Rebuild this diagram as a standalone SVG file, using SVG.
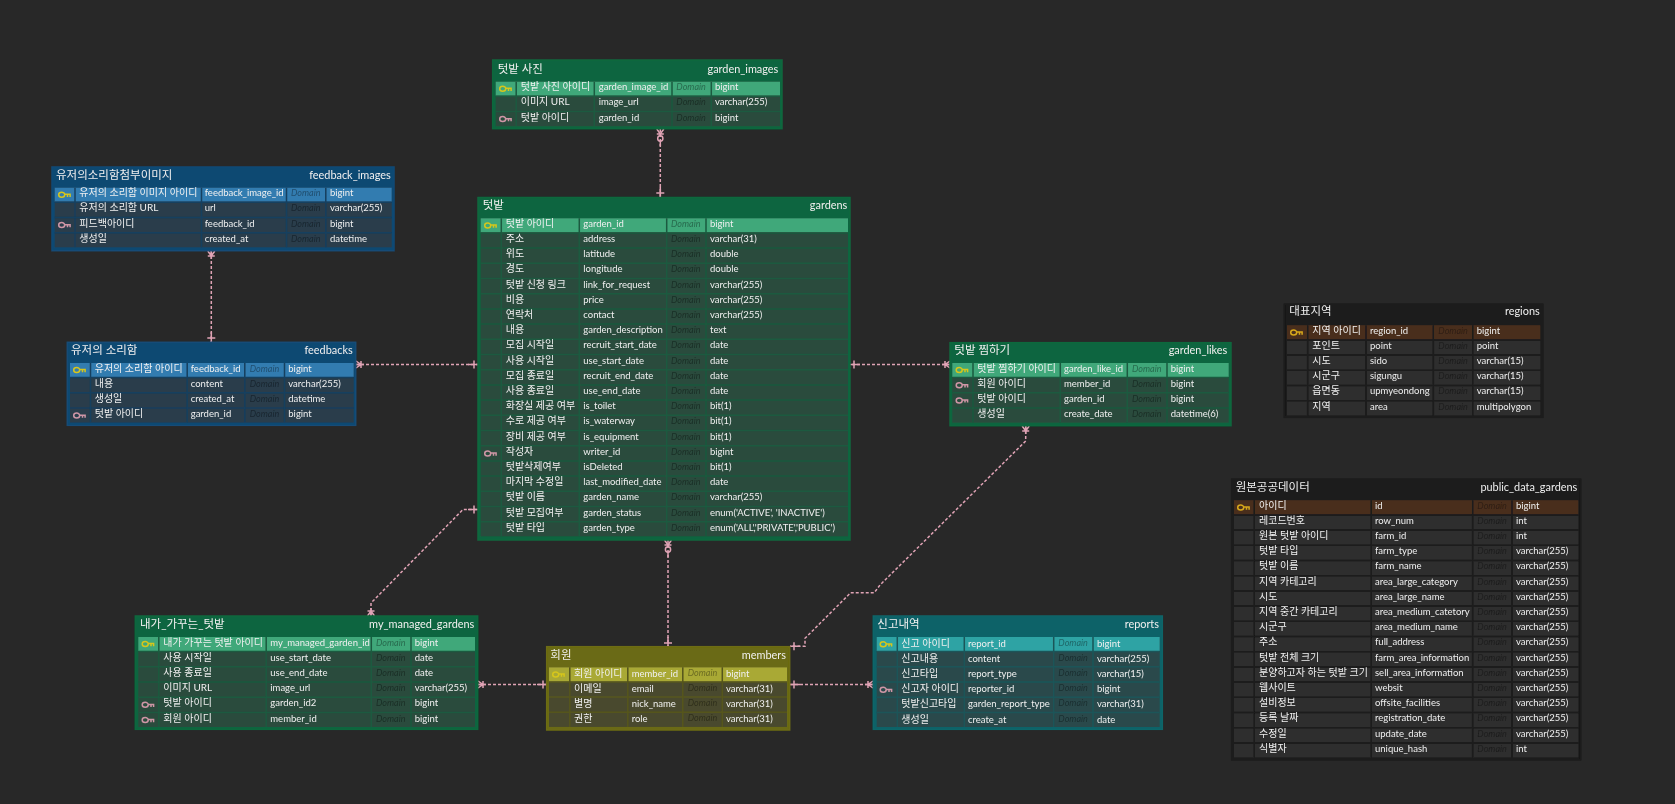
<svg xmlns="http://www.w3.org/2000/svg" width="1675" height="804" viewBox="0 0 1675 804">
<style>
text{font-family:"Lato","Noto Sans CJK KR",sans-serif;font-size:9.5px;fill:#f0f0f0}
g text:nth-of-type(4n+3){font-size:10px}
g .ti{font-size:11.5px;fill:#f0f0f0}
g .r{text-anchor:end;font-size:10.9px}
g .d{font-style:italic;font-size:9px;fill:#000;fill-opacity:.38}
.g .f{fill:#10653f;stroke:#0f683d}.g .b{fill:#2b4b3d}.g .p{fill:#3fa87a}.g .s{stroke:#1d5a3f}
.l .f{fill:#114972;stroke:#124b77}.l .b{fill:#293d4c}.l .p{fill:#337cb0}.l .s{stroke:#173f5e}
.o .f{fill:#6b6a12;stroke:#6d6c13}.o .b{fill:#4a4a2d}.o .p{fill:#a9a935}.o .s{stroke:#55551c}
.e .f{fill:#116267;stroke:#0f6669}.e .b{fill:#2b4a4c}.e .p{fill:#2fa3a4}.e .s{stroke:#1a5558}
.k .f{fill:#1a1a1a;stroke:#1c1c1c}.k .b{fill:#2e2e2e}.k .p{fill:#4a2f1c}.k .s{stroke:#1a1a1a}
.f{stroke-width:1.5}
.s{fill:none;stroke-width:1.5}
.pk{stroke:#d6c61c}.fk{stroke:#cf96a6}
.pk2{stroke:#d8a81a}
.c{fill:none;stroke:#e0a3b5;stroke-width:1.5;stroke-dasharray:3 2}
.m{fill:none;stroke:#e0a3b5;stroke-width:1.5}
</style>
<defs>
<filter id="soft" filterUnits="userSpaceOnUse" x="0" y="0" width="1675" height="804"><feGaussianBlur stdDeviation="0.45"/></filter>
<g id="key" fill="none" stroke-width="1.5"><ellipse cx="-2.8" cy="0" rx="3" ry="2.5"/><path d="M0 -0.4H5.6V2.2M3 -0.4V2.2"/></g>
<marker id="one" markerUnits="userSpaceOnUse" orient="auto-start-reverse" markerWidth="20" markerHeight="12" refX="18" refY="6" viewBox="0 0 20 12" overflow="visible"><path class="m" d="M8 6H18M14 2V10"/></marker>
<marker id="many" markerUnits="userSpaceOnUse" orient="auto-start-reverse" markerWidth="20" markerHeight="12" refX="18" refY="6" viewBox="0 0 20 12" overflow="visible"><path class="m" d="M10 6H18M18 2.5L13 6L18 9.5M13 2.5V9.5"/></marker>
<marker id="zmany" markerUnits="userSpaceOnUse" orient="auto-start-reverse" markerWidth="24" markerHeight="12" refX="22" refY="6" viewBox="0 0 24 12" overflow="visible"><path class="m" d="M22 2.5L17 6L22 9.5M17 2.5V9.5M17 6H15"/><circle class="m" cx="12.6" cy="6" r="2.6"/><path class="m" d="M10 6H5"/></marker>
</defs>
<rect width="1675" height="804" fill="#282828"/>
<g filter="url(#soft)">
<g id="connectors">
<path class="c" marker-start="url(#zmany)" marker-end="url(#one)" d="M660.3 129V197"/>
<path class="c" marker-start="url(#many)" marker-end="url(#one)" d="M211.3 251V342"/>
<path class="c" marker-start="url(#many)" marker-end="url(#one)" d="M356 364.5H478"/>
<path class="c" marker-start="url(#many)" marker-end="url(#one)" d="M950 364.5H850"/>
<path class="c" marker-start="url(#many)" marker-end="url(#one)" d="M371 616V603L463 509.5H478"/>
<path class="c" marker-start="url(#zmany)" marker-end="url(#one)" d="M668 540V647"/>
<path class="c" marker-start="url(#many)" marker-end="url(#one)" d="M1025.7 426V441L880 585L874.3 592.7H850.7L805 638.3V646.3H790"/>
<path class="c" marker-start="url(#many)" marker-end="url(#one)" d="M478 684.5H547"/>
<path class="c" marker-start="url(#many)" marker-end="url(#one)" d="M873 684.5H790"/>
</g>

<g id="garden_images" class="g">
<rect class="f" x="492.7" y="60" width="289.3" height="68.7"/>
<rect class="b" x="495.7" y="81.7" width="284.3" height="44.4"/>
<rect class="p" x="495.7" y="81.7" width="284.3" height="14"/>
<path class="s" d="M495.7 96.3H780M495.7 111.5H780M516.2 81.7V126.1M594.3 81.7V126.1M672 81.7V126.1M711.3 81.7V126.1"/>
<use href="#key" class="pk" x="505.5" y="88.7"/><use href="#key" class="fk" x="505.5" y="119.1"/>
<text class="ti" x="497.7" y="72.5">텃밭 사진</text><text class="ti r" x="778.3" y="72.5">garden_images</text>
<text x="520.7" y="90.2">텃밭 사진 아이디</text><text x="598.7" y="90.2">garden_image_id</text><text class="d" x="676.3" y="90.2">Domain</text><text x="715" y="90.2">bigint</text>
<text x="520.7" y="105.4">이미지 URL</text><text x="598.7" y="105.4">image_url</text><text class="d" x="676.3" y="105.4">Domain</text><text x="715" y="105.4">varchar(255)</text>
<text x="520.7" y="120.6">텃밭 아이디</text><text x="598.7" y="120.6">garden_id</text><text class="d" x="676.3" y="120.6">Domain</text><text x="715" y="120.6">bigint</text>
</g>

<g id="feedback_images" class="l">
<rect class="f" x="52" y="167" width="342" height="83.7"/>
<rect class="b" x="54.7" y="187.7" width="337" height="59.6"/>
<rect class="p" x="54.7" y="187.7" width="337" height="14"/>
<path class="s" d="M54.7 202.3H391.7M54.7 217.5H391.7M54.7 232.7H391.7M75 187.7V247.3M201.5 187.7V247.3M286.5 187.7V247.3M325.8 187.7V247.3"/>
<use href="#key" class="pk" x="64.5" y="194.7"/><use href="#key" class="fk" x="64.5" y="225.1"/>
<text class="ti" x="56" y="178.5">유저의소리함첨부이미지</text><text class="ti r" x="390.7" y="178.5">feedback_images</text>
<text x="79.3" y="196.2">유저의 소리함 이미지 아이디</text><text x="204.7" y="196.2">feedback_image_id</text><text class="d" x="291" y="196.2">Domain</text><text x="330" y="196.2">bigint</text>
<text x="79.3" y="211.4">유저의 소리함 URL</text><text x="204.7" y="211.4">url</text><text class="d" x="291" y="211.4">Domain</text><text x="330" y="211.4">varchar(255)</text>
<text x="79.3" y="226.6">피드백아이디</text><text x="204.7" y="226.6">feedback_id</text><text class="d" x="291" y="226.6">Domain</text><text x="330" y="226.6">bigint</text>
<text x="79.3" y="241.8">생성일</text><text x="204.7" y="241.8">created_at</text><text class="d" x="291" y="241.8">Domain</text><text x="330" y="241.8">datetime</text>
</g>

<g id="feedbacks" class="l">
<rect class="f" x="67.3" y="342.3" width="288.4" height="83"/>
<rect class="b" x="70" y="363" width="283.7" height="59.6"/>
<rect class="p" x="70" y="363" width="283.7" height="14"/>
<path class="s" d="M70 377.6H353.7M70 392.8H353.7M70 408H353.7M90.5 363V422.6M187.2 363V422.6M244.8 363V422.6M284.5 363V422.6"/>
<use href="#key" class="pk" x="79.5" y="370"/><use href="#key" class="fk" x="79.5" y="415.6"/>
<text class="ti" x="71" y="353.5">유저의 소리함</text><text class="ti r" x="352.7" y="353.5">feedbacks</text>
<text x="94.7" y="371.5">유저의 소리함 아이디</text><text x="190.7" y="371.5">feedback_id</text><text class="d" x="249.7" y="371.5">Domain</text><text x="288.3" y="371.5">bigint</text>
<text x="94.7" y="386.7">내용</text><text x="190.7" y="386.7">content</text><text class="d" x="249.7" y="386.7">Domain</text><text x="288.3" y="386.7">varchar(255)</text>
<text x="94.7" y="401.9">생성일</text><text x="190.7" y="401.9">created_at</text><text class="d" x="249.7" y="401.9">Domain</text><text x="288.3" y="401.9">datetime</text>
<text x="94.7" y="417.1">텃밭 아이디</text><text x="190.7" y="417.1">garden_id</text><text class="d" x="249.7" y="417.1">Domain</text><text x="288.3" y="417.1">bigint</text>
</g>

<g id="gardens" class="g">
<rect class="f" x="478" y="197.5" width="372" height="342.5"/>
<rect class="b" x="480.7" y="218.3" width="367.3" height="318"/>
<rect class="p" x="480.7" y="218.3" width="367.3" height="14"/>
<path class="s" d="M480.7 232.9H848M480.7 248.1H848M480.7 263.3H848M480.7 278.5H848M480.7 293.7H848M480.7 308.9H848M480.7 324.1H848M480.7 339.3H848M480.7 354.5H848M480.7 369.7H848M480.7 384.9H848M480.7 400.1H848M480.7 415.3H848M480.7 430.5H848M480.7 445.7H848M480.7 460.9H848M480.7 476.1H848M480.7 491.3H848M480.7 506.5H848M480.7 521.7H848M501.3 218.3V536.3M579.3 218.3V536.3M666.7 218.3V536.3M706 218.3V536.3"/>
<use href="#key" class="pk" x="490.5" y="225.5"/><use href="#key" class="fk" x="490.5" y="453.5"/>
<text class="ti" x="482.7" y="209">텃밭</text><text class="ti r" x="847.3" y="209">gardens</text>
<text x="505.7" y="226.8">텃밭 아이디</text><text x="583.3" y="226.8">garden_id</text><text class="d" x="671" y="226.8">Domain</text><text x="710" y="226.8">bigint</text>
<text x="505.7" y="242">주소</text><text x="583.3" y="242">address</text><text class="d" x="671" y="242">Domain</text><text x="710" y="242">varchar(31)</text>
<text x="505.7" y="257.2">위도</text><text x="583.3" y="257.2">latitude</text><text class="d" x="671" y="257.2">Domain</text><text x="710" y="257.2">double</text>
<text x="505.7" y="272.4">경도</text><text x="583.3" y="272.4">longitude</text><text class="d" x="671" y="272.4">Domain</text><text x="710" y="272.4">double</text>
<text x="505.7" y="287.6">텃밭 신청 링크</text><text x="583.3" y="287.6">link_for_request</text><text class="d" x="671" y="287.6">Domain</text><text x="710" y="287.6">varchar(255)</text>
<text x="505.7" y="302.8">비용</text><text x="583.3" y="302.8">price</text><text class="d" x="671" y="302.8">Domain</text><text x="710" y="302.8">varchar(255)</text>
<text x="505.7" y="318">연락처</text><text x="583.3" y="318">contact</text><text class="d" x="671" y="318">Domain</text><text x="710" y="318">varchar(255)</text>
<text x="505.7" y="333.2">내용</text><text x="583.3" y="333.2">garden_description</text><text class="d" x="671" y="333.2">Domain</text><text x="710" y="333.2">text</text>
<text x="505.7" y="348.4">모집 시작일</text><text x="583.3" y="348.4">recruit_start_date</text><text class="d" x="671" y="348.4">Domain</text><text x="710" y="348.4">date</text>
<text x="505.7" y="363.6">사용 시작일</text><text x="583.3" y="363.6">use_start_date</text><text class="d" x="671" y="363.6">Domain</text><text x="710" y="363.6">date</text>
<text x="505.7" y="378.8">모집 종료일</text><text x="583.3" y="378.8">recruit_end_date</text><text class="d" x="671" y="378.8">Domain</text><text x="710" y="378.8">date</text>
<text x="505.7" y="394">사용 종료일</text><text x="583.3" y="394">use_end_date</text><text class="d" x="671" y="394">Domain</text><text x="710" y="394">date</text>
<text x="505.7" y="409.2">화장실 제공 여부</text><text x="583.3" y="409.2">is_toilet</text><text class="d" x="671" y="409.2">Domain</text><text x="710" y="409.2">bit(1)</text>
<text x="505.7" y="424.4">수로 제공 여부</text><text x="583.3" y="424.4">is_waterway</text><text class="d" x="671" y="424.4">Domain</text><text x="710" y="424.4">bit(1)</text>
<text x="505.7" y="439.6">장비 제공 여부</text><text x="583.3" y="439.6">is_equipment</text><text class="d" x="671" y="439.6">Domain</text><text x="710" y="439.6">bit(1)</text>
<text x="505.7" y="454.8">작성자</text><text x="583.3" y="454.8">writer_id</text><text class="d" x="671" y="454.8">Domain</text><text x="710" y="454.8">bigint</text>
<text x="505.7" y="470">텃밭삭제여부</text><text x="583.3" y="470">isDeleted</text><text class="d" x="671" y="470">Domain</text><text x="710" y="470">bit(1)</text>
<text x="505.7" y="485.2">마지막 수정일</text><text x="583.3" y="485.2">last_modified_date</text><text class="d" x="671" y="485.2">Domain</text><text x="710" y="485.2">date</text>
<text x="505.7" y="500.4">텃밭 이름</text><text x="583.3" y="500.4">garden_name</text><text class="d" x="671" y="500.4">Domain</text><text x="710" y="500.4">varchar(255)</text>
<text x="505.7" y="515.6">텃밭 모집여부</text><text x="583.3" y="515.6">garden_status</text><text class="d" x="671" y="515.6">Domain</text><text x="710" y="515.6">enum('ACTIVE', 'INACTIVE')</text>
<text x="505.7" y="530.8">텃밭 타입</text><text x="583.3" y="530.8">garden_type</text><text class="d" x="671" y="530.8">Domain</text><text x="710" y="530.8">enum('ALL','PRIVATE','PUBLIC')</text>
</g>

<g id="garden_likes" class="g">
<rect class="f" x="950" y="342.7" width="281" height="83"/>
<rect class="b" x="952.3" y="363" width="276.4" height="59.6"/>
<rect class="p" x="952.3" y="363" width="276.4" height="14"/>
<path class="s" d="M952.3 377.6H1228.7M952.3 392.8H1228.7M952.3 408H1228.7M973 363V422.6M1060.3 363V422.6M1127.3 363V422.6M1167 363V422.6"/>
<use href="#key" class="pk" x="962" y="370"/><use href="#key" class="fk" x="962" y="385.2"/><use href="#key" class="fk" x="962" y="400.4"/>
<text class="ti" x="954.3" y="354">텃밭 찜하기</text><text class="ti r" x="1227.3" y="354">garden_likes</text>
<text x="977.3" y="371.5">텃밭 찜하기 아이디</text><text x="1064" y="371.5">garden_like_id</text><text class="d" x="1132" y="371.5">Domain</text><text x="1170.7" y="371.5">bigint</text>
<text x="977.3" y="386.7">회원 아이디</text><text x="1064" y="386.7">member_id</text><text class="d" x="1132" y="386.7">Domain</text><text x="1170.7" y="386.7">bigint</text>
<text x="977.3" y="401.9">텃밭 아이디</text><text x="1064" y="401.9">garden_id</text><text class="d" x="1132" y="401.9">Domain</text><text x="1170.7" y="401.9">bigint</text>
<text x="977.3" y="417.1">생성일</text><text x="1064" y="417.1">create_date</text><text class="d" x="1132" y="417.1">Domain</text><text x="1170.7" y="417.1">datetime(6)</text>
</g>

<g id="my_managed_gardens" class="g">
<rect class="f" x="135.3" y="616" width="342.4" height="113.3"/>
<rect class="b" x="138.3" y="637" width="336.7" height="90"/>
<rect class="p" x="138.3" y="637" width="336.7" height="14"/>
<path class="s" d="M138.3 651.6H475M138.3 666.8H475M138.3 682H475M138.3 697.2H475M138.3 712.4H475M158.8 637V727M266.2 637V727M371.3 637V727M411 637V727"/>
<use href="#key" class="pk" x="148" y="644"/><use href="#key" class="fk" x="148" y="704.8"/><use href="#key" class="fk" x="148" y="720"/>
<text class="ti" x="140" y="628">내가_가꾸는_텃밭</text><text class="ti r" x="474.3" y="628">my_managed_gardens</text>
<text x="163.3" y="645.5">내가 가꾸는 텃밭 아이디</text><text x="270.3" y="645.5">my_managed_garden_id</text><text class="d" x="376" y="645.5">Domain</text><text x="414.7" y="645.5">bigint</text>
<text x="163.3" y="660.7">사용 시작일</text><text x="270.3" y="660.7">use_start_date</text><text class="d" x="376" y="660.7">Domain</text><text x="414.7" y="660.7">date</text>
<text x="163.3" y="675.9">사용 종료일</text><text x="270.3" y="675.9">use_end_date</text><text class="d" x="376" y="675.9">Domain</text><text x="414.7" y="675.9">date</text>
<text x="163.3" y="691.1">이미지 URL</text><text x="270.3" y="691.1">image_url</text><text class="d" x="376" y="691.1">Domain</text><text x="414.7" y="691.1">varchar(255)</text>
<text x="163.3" y="706.3">텃밭 아이디</text><text x="270.3" y="706.3">garden_id2</text><text class="d" x="376" y="706.3">Domain</text><text x="414.7" y="706.3">bigint</text>
<text x="163.3" y="721.5">회원 아이디</text><text x="270.3" y="721.5">member_id</text><text class="d" x="376" y="721.5">Domain</text><text x="414.7" y="721.5">bigint</text>
</g>

<g id="members" class="o">
<rect class="f" x="546.7" y="646.7" width="243" height="83.3"/>
<rect class="b" x="549" y="667.3" width="238" height="59.6"/>
<rect class="p" x="549" y="667.3" width="238" height="14.4"/>
<path class="s" d="M549 681.9H787M549 697.1H787M549 712.3H787M569.8 667.3V726.9M627.8 667.3V726.9M682.8 667.3V726.9M722.3 667.3V726.9"/>
<use href="#key" class="pk" x="558.5" y="674.5"/>
<text class="ti" x="550.3" y="659">회원</text><text class="ti r" x="786" y="659">members</text>
<text x="574" y="676.7">회원 아이디</text><text x="631.7" y="676.7">member_id</text><text class="d" x="687.7" y="675.7">Domain</text><text x="726" y="676.7">bigint</text>
<text x="574" y="691.9">이메일</text><text x="631.7" y="691.9">email</text><text class="d" x="687.7" y="690.9">Domain</text><text x="726" y="691.9">varchar(31)</text>
<text x="574" y="707.1">별명</text><text x="631.7" y="707.1">nick_name</text><text class="d" x="687.7" y="706.1">Domain</text><text x="726" y="707.1">varchar(31)</text>
<text x="574" y="722.3">권한</text><text x="631.7" y="722.3">role</text><text class="d" x="687.7" y="721.3">Domain</text><text x="726" y="722.3">varchar(31)</text>
</g>

<g id="reports" class="e">
<rect class="f" x="873.3" y="616" width="289" height="113.3"/>
<rect class="b" x="876.7" y="637" width="283" height="90"/>
<rect class="p" x="876.7" y="637" width="283" height="14"/>
<path class="s" d="M876.7 651.6H1159.7M876.7 666.8H1159.7M876.7 682H1159.7M876.7 697.2H1159.7M876.7 712.4H1159.7M897.3 637V727M964.3 637V727M1053.7 637V727M1093 637V727"/>
<use href="#key" class="pk" x="886" y="644.3"/><use href="#key" class="fk" x="886" y="689.8"/>
<text class="ti" x="877.3" y="628">신고내역</text><text class="ti r" x="1159" y="628">reports</text>
<text x="901.3" y="646.5">신고 아이디</text><text x="968" y="646.5">report_id</text><text class="d" x="1058.3" y="645.5">Domain</text><text x="1097" y="646.5">bigint</text>
<text x="901.3" y="661.7">신고내용</text><text x="968" y="661.7">content</text><text class="d" x="1058.3" y="660.7">Domain</text><text x="1097" y="661.7">varchar(255)</text>
<text x="901.3" y="676.9">신고타입</text><text x="968" y="676.9">report_type</text><text class="d" x="1058.3" y="675.9">Domain</text><text x="1097" y="676.9">varchar(15)</text>
<text x="901.3" y="692.1">신고자 아이디</text><text x="968" y="692.1">reporter_id</text><text class="d" x="1058.3" y="691.1">Domain</text><text x="1097" y="692.1">bigint</text>
<text x="901.3" y="707.3">텃밭신고타입</text><text x="968" y="707.3">garden_report_type</text><text class="d" x="1058.3" y="706.3">Domain</text><text x="1097" y="707.3">varchar(31)</text>
<text x="901.3" y="722.5">생성일</text><text x="968" y="722.5">create_at</text><text class="d" x="1058.3" y="721.5">Domain</text><text x="1097" y="722.5">date</text>
</g>

<g id="regions" class="k">
<rect class="f" x="1284.3" y="304" width="258.7" height="113.3"/>
<rect class="b" x="1287" y="325.3" width="253.3" height="90"/>
<rect class="p" x="1287" y="325.3" width="253.3" height="14"/>
<path class="s" d="M1287 339.9H1540.3M1287 355.1H1540.3M1287 370.3H1540.3M1287 385.5H1540.3M1287 400.7H1540.3M1307.7 325.3V415.3M1366 325.3V415.3M1433.3 325.3V415.3M1472.8 325.3V415.3"/>
<use href="#key" class="pk2" x="1296.5" y="332.5"/>
<text class="ti" x="1289.3" y="315">대표지역</text><text class="ti r" x="1539.7" y="315">regions</text>
<text x="1312.3" y="333.5">지역 아이디</text><text x="1370" y="333.5">region_id</text><text class="d" x="1438.3" y="333.5">Domain</text><text x="1476.7" y="333.5">bigint</text>
<text x="1312.3" y="348.7">포인트</text><text x="1370" y="348.7">point</text><text class="d" x="1438.3" y="348.7">Domain</text><text x="1476.7" y="348.7">point</text>
<text x="1312.3" y="363.9">시도</text><text x="1370" y="363.9">sido</text><text class="d" x="1438.3" y="363.9">Domain</text><text x="1476.7" y="363.9">varchar(15)</text>
<text x="1312.3" y="379.1">시군구</text><text x="1370" y="379.1">sigungu</text><text class="d" x="1438.3" y="379.1">Domain</text><text x="1476.7" y="379.1">varchar(15)</text>
<text x="1312.3" y="394.3">읍면동</text><text x="1370" y="394.3">upmyeondong</text><text class="d" x="1438.3" y="394.3">Domain</text><text x="1476.7" y="394.3">varchar(15)</text>
<text x="1312.3" y="409.5">지역</text><text x="1370" y="409.5">area</text><text class="d" x="1438.3" y="409.5">Domain</text><text x="1476.7" y="409.5">multipolygon</text>
</g>

<g id="public_data_gardens" class="k">
<rect class="f" x="1231.7" y="479" width="349" height="281"/>
<rect class="b" x="1234" y="500.3" width="344.3" height="257.2"/>
<rect class="p" x="1234" y="500.3" width="344.3" height="14"/>
<path class="s" d="M1234 514.9H1578.3M1234 530.1H1578.3M1234 545.3H1578.3M1234 560.5H1578.3M1234 575.7H1578.3M1234 590.9H1578.3M1234 606.1H1578.3M1234 621.3H1578.3M1234 636.5H1578.3M1234 651.7H1578.3M1234 666.9H1578.3M1234 682.1H1578.3M1234 697.3H1578.3M1234 712.5H1578.3M1234 727.7H1578.3M1234 742.9H1578.3M1254.2 500.3V757.5M1371.2 500.3V757.5M1472.7 500.3V757.5M1512 500.3V757.5"/>
<use href="#key" class="pk2" x="1243.5" y="507.5"/>
<text class="ti" x="1235.7" y="491">원본공공데이터</text><text class="ti r" x="1577.3" y="491">public_data_gardens</text>
<text x="1259" y="508.5">아이디</text><text x="1375" y="508.5">id</text><text class="d" x="1477.3" y="508.5">Domain</text><text x="1516" y="508.5">bigint</text>
<text x="1259" y="523.7">레코드번호</text><text x="1375" y="523.7">row_num</text><text class="d" x="1477.3" y="523.7">Domain</text><text x="1516" y="523.7">int</text>
<text x="1259" y="538.9">원본 텃밭 아이디</text><text x="1375" y="538.9">farm_id</text><text class="d" x="1477.3" y="538.9">Domain</text><text x="1516" y="538.9">int</text>
<text x="1259" y="554.1">텃밭 타입</text><text x="1375" y="554.1">farm_type</text><text class="d" x="1477.3" y="554.1">Domain</text><text x="1516" y="554.1">varchar(255)</text>
<text x="1259" y="569.3">텃밭 이름</text><text x="1375" y="569.3">farm_name</text><text class="d" x="1477.3" y="569.3">Domain</text><text x="1516" y="569.3">varchar(255)</text>
<text x="1259" y="584.5">지역 카테고리</text><text x="1375" y="584.5">area_large_category</text><text class="d" x="1477.3" y="584.5">Domain</text><text x="1516" y="584.5">varchar(255)</text>
<text x="1259" y="599.7">시도</text><text x="1375" y="599.7">area_large_name</text><text class="d" x="1477.3" y="599.7">Domain</text><text x="1516" y="599.7">varchar(255)</text>
<text x="1259" y="614.9">지역 중간 카테고리</text><text x="1375" y="614.9">area_medium_catetory</text><text class="d" x="1477.3" y="614.9">Domain</text><text x="1516" y="614.9">varchar(255)</text>
<text x="1259" y="630.1">시군구</text><text x="1375" y="630.1">area_medium_name</text><text class="d" x="1477.3" y="630.1">Domain</text><text x="1516" y="630.1">varchar(255)</text>
<text x="1259" y="645.3">주소</text><text x="1375" y="645.3">full_address</text><text class="d" x="1477.3" y="645.3">Domain</text><text x="1516" y="645.3">varchar(255)</text>
<text x="1259" y="660.5">텃밭 전체 크기</text><text x="1375" y="660.5">farm_area_information</text><text class="d" x="1477.3" y="660.5">Domain</text><text x="1516" y="660.5">varchar(255)</text>
<text x="1259" y="675.7">분양하고자 하는 텃밭 크기</text><text x="1375" y="675.7">sell_area_information</text><text class="d" x="1477.3" y="675.7">Domain</text><text x="1516" y="675.7">varchar(255)</text>
<text x="1259" y="690.9">웹사이트</text><text x="1375" y="690.9">websit</text><text class="d" x="1477.3" y="690.9">Domain</text><text x="1516" y="690.9">varchar(255)</text>
<text x="1259" y="706.1">설비정보</text><text x="1375" y="706.1">offsite_facilities</text><text class="d" x="1477.3" y="706.1">Domain</text><text x="1516" y="706.1">varchar(255)</text>
<text x="1259" y="721.3">등록 날짜</text><text x="1375" y="721.3">registration_date</text><text class="d" x="1477.3" y="721.3">Domain</text><text x="1516" y="721.3">varchar(255)</text>
<text x="1259" y="736.5">수정일</text><text x="1375" y="736.5">update_date</text><text class="d" x="1477.3" y="736.5">Domain</text><text x="1516" y="736.5">varchar(255)</text>
<text x="1259" y="751.7">식별자</text><text x="1375" y="751.7">unique_hash</text><text class="d" x="1477.3" y="751.7">Domain</text><text x="1516" y="751.7">int</text>
</g>
</g>
</svg>
